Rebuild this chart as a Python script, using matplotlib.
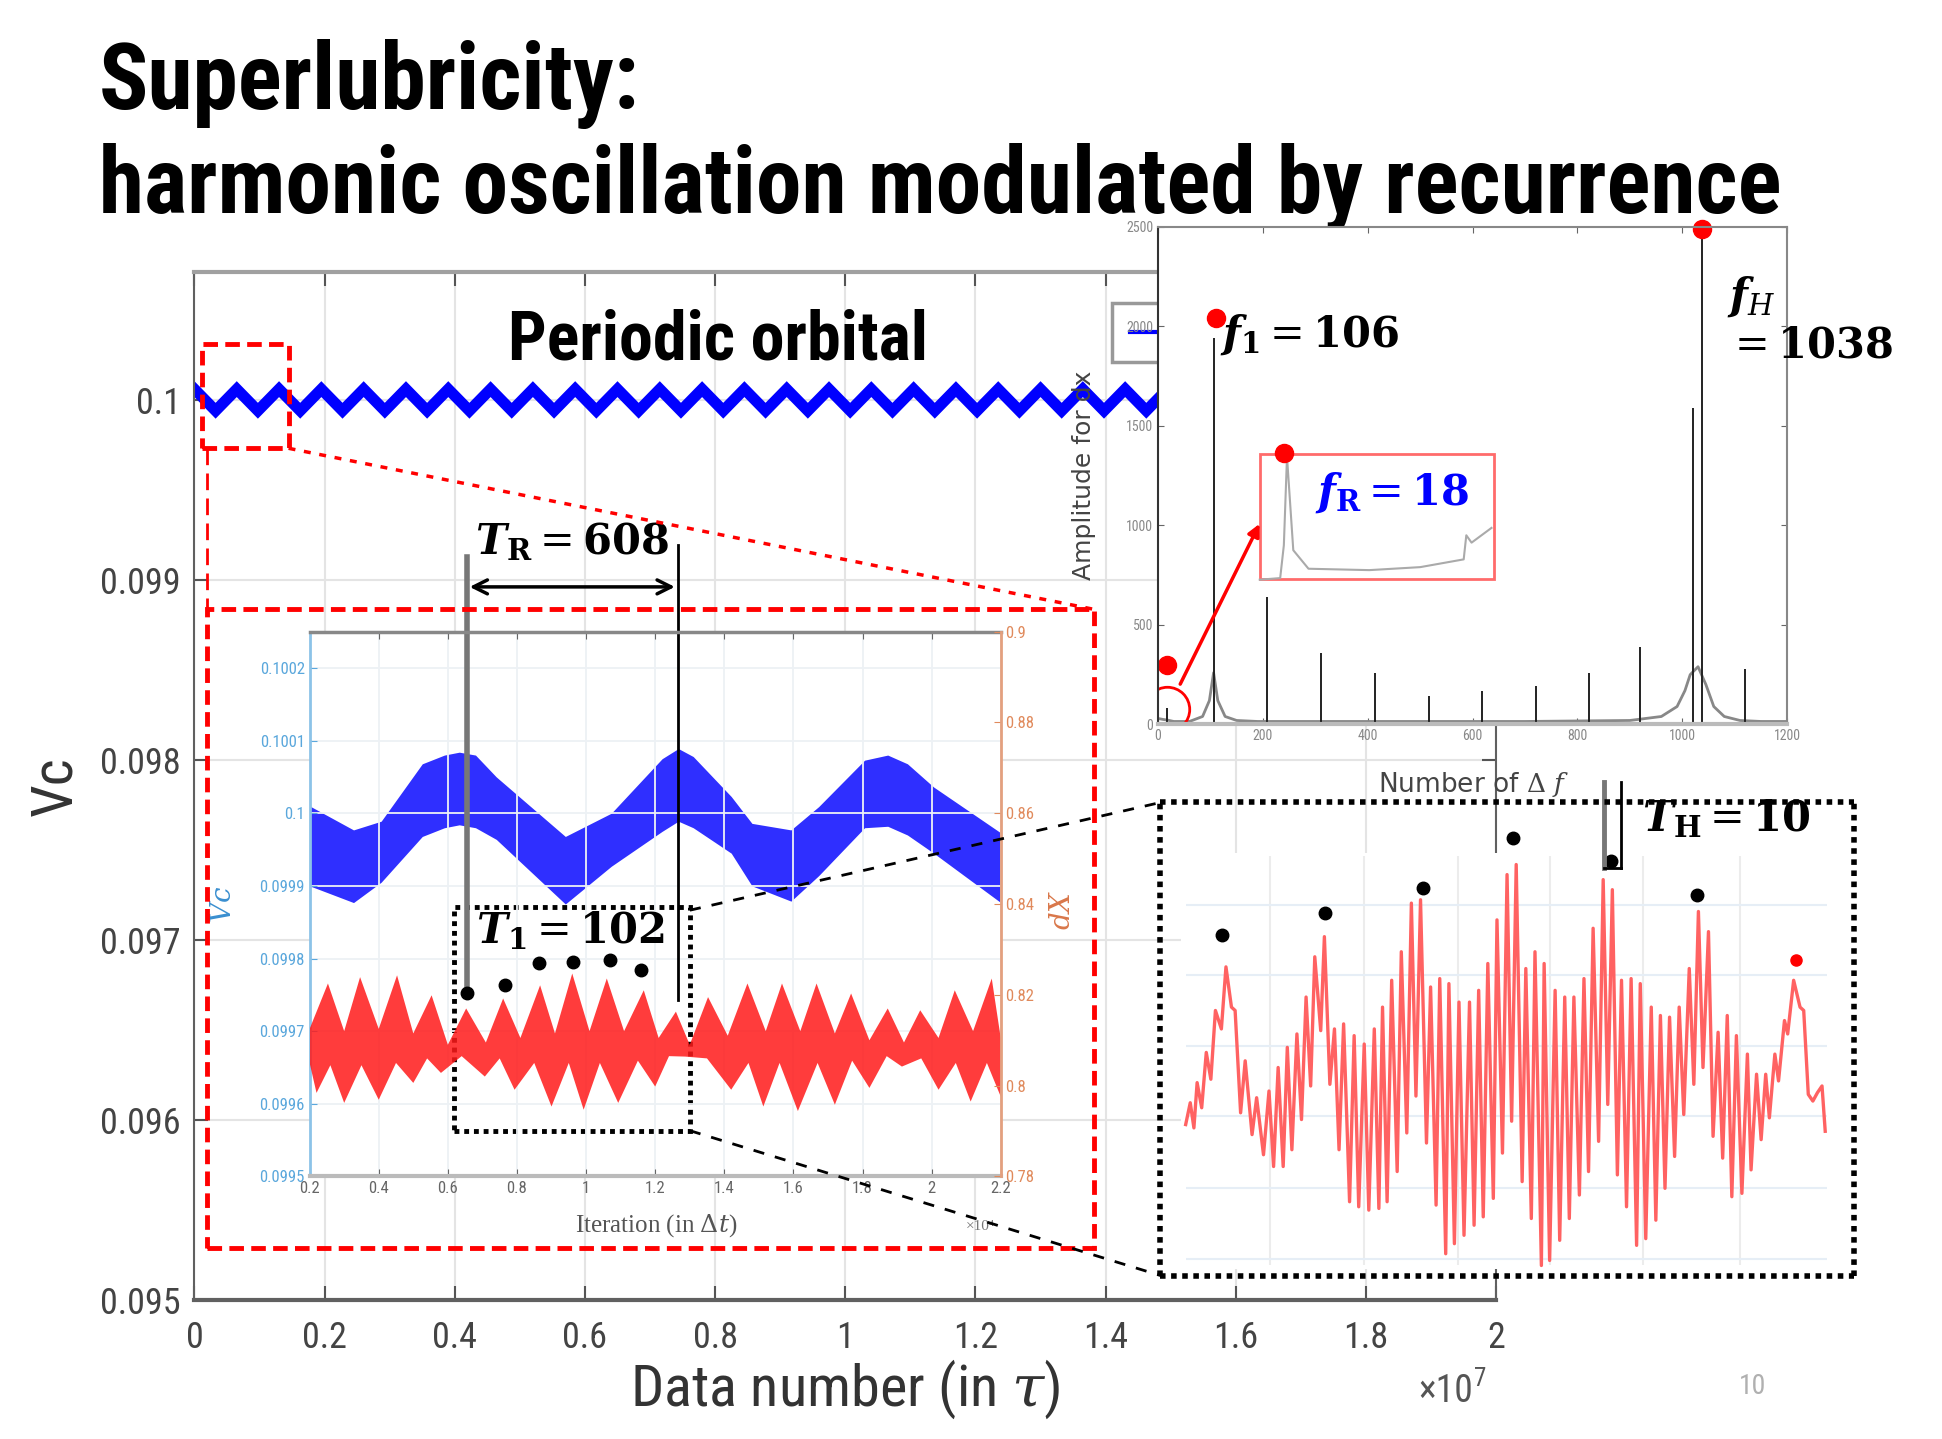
import numpy as np
import matplotlib
matplotlib.use('Agg')
import matplotlib.pyplot as plt
from matplotlib.patches import Rectangle
from matplotlib.lines import Line2D
from matplotlib.ticker import FuncFormatter

plt.rcParams['font.family'] = ['Roboto Condensed', 'Barlow Semi Condensed', 'DejaVu Sans']
plt.rcParams['mathtext.fontset'] = 'custom'
plt.rcParams['mathtext.rm'] = 'DejaVu Serif'
plt.rcParams['mathtext.it'] = 'DejaVu Serif:italic'
plt.rcParams['mathtext.bf'] = 'DejaVu Serif:bold'
plt.rcParams['mathtext.bfit'] = 'DejaVu Serif:italic:bold'

# ---------------- data ----------------
# main trace: periodic orbital, one read cycle repeated over the run
orbit_half_period = 3.25e5
orbit_levels = [0.10006, 0.09994]
data_span = 2.0e7

# middle inset, x in 1e4 iterations: Vc band (left axis)
band_x = [0.2, 0.327, 0.407, 0.526, 0.59, 0.633, 0.68, 0.74, 0.94, 1.073, 1.22,
          1.267, 1.31, 1.42, 1.48, 1.593, 1.673, 1.806, 1.873, 1.93, 2.006, 2.2]
band_hi = [0.10001, 0.099977, 0.099989, 0.100068, 0.10008, 0.100084, 0.10008,
           0.10005, 0.099968, 0.1, 0.100075, 0.100089, 0.100078, 0.100023,
           0.099986, 0.099977, 0.100009, 0.100073, 0.10008, 0.100068, 0.100036,
           0.099973]
band_lo = [0.0999, 0.099877, 0.099905, 0.099968, 0.09998, 0.099984, 0.09998,
           0.099964, 0.099875, 0.099927, 0.099975, 0.099989, 0.09998, 0.099945,
           0.0999, 0.099879, 0.099914, 0.09998, 0.099982, 0.09997, 0.099945,
           0.099877]

# middle inset: dX band (right axis), upper and lower jagged edges
dx_up_x = [0.2, 0.253, 0.30, 0.346, 0.40, 0.453, 0.50, 0.553, 0.60, 0.653, 0.71,
           0.76, 0.81, 0.867, 0.91, 0.96, 1.01, 1.06, 1.11, 1.167, 1.21, 1.26, 1.30,
           1.353, 1.41, 1.467, 1.52, 1.567, 1.62, 1.667, 1.72, 1.767, 1.82, 1.873,
           1.92, 1.967, 2.02, 2.067, 2.12, 2.174, 2.2]
dx_up_y = [0.8125, 0.8225, 0.812, 0.8239, 0.8125, 0.8243, 0.8115, 0.8199, 0.809,
           0.817, 0.8095, 0.8192, 0.8105, 0.8221, 0.8115, 0.8247, 0.812, 0.8236,
           0.812, 0.821, 0.8105, 0.8163, 0.809, 0.8195, 0.811, 0.8225, 0.812,
           0.8225, 0.812, 0.8225, 0.8115, 0.8203, 0.81, 0.817, 0.8095, 0.8166,
           0.8105, 0.821, 0.812, 0.8236, 0.8105]
dx_lo_x = [0.2, 0.22, 0.26, 0.30, 0.35, 0.40, 0.45, 0.50, 0.54, 0.58, 0.64, 0.707,
           0.75, 0.793, 0.85, 0.90, 0.95, 0.993, 1.04, 1.093, 1.15, 1.20, 1.24,
           1.287, 1.35, 1.42, 1.47, 1.513, 1.56, 1.613, 1.67, 1.72, 1.77, 1.82,
           1.87, 1.914, 1.97, 2.02, 2.07, 2.113, 2.16, 2.2]
dx_lo_y = [0.805, 0.7984, 0.8045, 0.7962, 0.8045, 0.7969, 0.805, 0.8006, 0.806,
           0.8028, 0.8065, 0.802, 0.806, 0.7991, 0.805, 0.7954, 0.805, 0.7947,
           0.805, 0.7962, 0.8055, 0.7998, 0.8065, 0.8064, 0.806, 0.7991, 0.805,
           0.7954, 0.805, 0.7944, 0.805, 0.7958, 0.8055, 0.7995, 0.8065, 0.8042,
           0.806, 0.7991, 0.805, 0.7965, 0.805, 0.7976]
t1_dot_x = [0.655, 0.765, 0.865, 0.962, 1.07, 1.16]
t1_dot_y = [0.8204, 0.8221, 0.8270, 0.8273, 0.8276, 0.8254]
tr_marks = [0.655, 1.265]

# spectrum of dx
peak_f = [18, 106, 208, 310, 414, 516, 618, 720, 822, 920, 1020, 1038, 1120]
peak_amp = [85, 1940, 640, 360, 260, 145, 170, 195, 260, 390, 1590, 2480, 280]
skirt_f = [0, 10, 18, 30, 60, 85, 98, 106, 114, 128, 150, 190, 300, 500, 700, 900,
           960, 990, 1005, 1015, 1030, 1045, 1060, 1080, 1110, 1150, 1200]
skirt_amp = [30, 25, 22, 15, 15, 40, 120, 260, 120, 40, 20, 15, 15, 15, 15, 20,
             40, 90, 170, 250, 290, 200, 90, 40, 20, 15, 15]
zoom_f = [194, 233, 240, 246, 258, 287, 403, 500, 583, 588, 598, 636]
zoom_amp = [727, 735, 900, 1345, 875, 782, 775, 790, 829, 950, 913, 987]
spec_dot_f = [18, 110, 240, 1038]
spec_dot_amp = [300, 2040, 1365, 2490]

# harmonic oscillation zoom (arbitrary time / amplitude units)
h_t = [7.0, 8.0, 8.8, 9.5, 10.5, 11.5, 12.5, 13.5, 14.8, 15.8, 17.0, 17.8, 19.0,
       20.0, 21.5, 22.5, 24.0, 25.2, 26.2, 27.2, 28.3, 29.2, 30.2, 31.3, 32.3,
       33.3, 34.3, 35.2, 36.5, 37.3, 38.5, 39.5, 40.5, 41.5, 42.8, 43.8, 44.8,
       46.0, 47.0, 48.2, 49.2, 50.0, 51.0, 52.0, 53.2, 54.1, 55.3, 56.3, 57.3,
       58.3, 59.6, 60.5, 61.7, 62.5, 63.8, 64.5, 65.7, 66.7, 67.8, 69.0, 70.0,
       71.0, 72.0, 73.0, 74.2, 75.0, 76.2, 77.2, 78.2, 79.2, 80.5, 81.3, 82.5,
       83.3, 84.7, 85.3, 86.5, 87.7, 88.7, 89.8, 90.8, 91.8, 93.0, 94.0, 95.0,
       96.0, 97.2, 98.2, 99.2, 100.2, 101.3, 102.2, 103.3, 104.3, 105.5, 106.3,
       107.5, 108.7, 109.7, 110.7, 111.7, 112.7, 113.8, 114.8, 115.8, 117.0,
       118.0, 119.0, 120.0, 121.2, 122.2, 123.3, 124.3, 125.3, 126.3, 127.3,
       128.5, 129.7, 130.5, 131.7, 132.7, 133.7, 134.5, 135.7, 136.5, 137.8,
       138.5, 139.8, 140.5, 141.2, 142.0, 143.0, 144.0, 145.0, 146.0, 146.7]
h_amp = [47.0, 53.5, 46.0, 59.5, 52.0, 68.5, 60.5, 81.0, 75.5, 94.0, 82.0, 81.0,
         50.5, 66.0, 44.0, 55.0, 38.0, 57.0, 34.5, 64.0, 34.5, 70.0, 39.5, 74.0,
         48.5, 85.0, 58.5, 97.0, 75.0, 103.0, 59.0, 75.5, 39.5, 77.0, 24.0, 73.5,
         22.5, 71.0, 21.5, 75.5, 22.0, 82.0, 24.0, 90.0, 33.0, 98.5, 44.5, 113.0,
         55.5, 114.0, 41.5, 88.0, 23.0, 90.5, 8.5, 89.0, 11.5, 83.5, 14.0, 83.5,
         17.0, 87.0, 19.5, 95.0, 25.0, 108.0, 38.5, 121.5, 48.0, 124.5, 30.0,
         93.5, 19.0, 98.5, 5.0, 95.0, 6.5, 87.0, 12.5, 85.0, 19.0, 85.0, 26.0,
         90.5, 33.0, 105.5, 42.0, 120.0, 53.0, 117.0, 32.0, 90.0, 22.5, 90.5,
         11.0, 89.0, 13.0, 82.0, 18.5, 79.5, 28.0, 79.0, 37.5, 82.0, 50.0, 93.5,
         59.0, 110.5, 64.0, 104.5, 43.5, 74.5, 37.0, 79.5, 25.5, 73.5, 26.5,
         68.0, 33.5, 62.0, 42.5, 62.0, 49.0, 68.0, 60.0, 78.0, 74.0, 90.0, 86.0,
         82.0, 81.0, 56.0, 54.0, 56.5, 58.5, 45.0]
h_dot_t = [15.0, 37.5, 58.8, 78.5, 99.8, 118.8]
h_dot_amp = [103.5, 110.0, 117.5, 132.5, 125.5, 115.5]
h_last_t = [140.3]
h_last_amp = [96.0]
h_grid_t = [25.5, 46, 66.5, 86.5, 107, 128]
h_grid_amp = [7, 28, 49.5, 70.5, 91.5, 112.5]


def box(l, t, r, b):
    # slide sketch px (1568x1162) -> figure fraction
    return [l / 1568, 1 - b / 1162, (r - l) / 1568, (b - t) / 1162]


def fp(x, y):
    return (x / 1568, 1 - y / 1162)


fig = plt.figure(figsize=(19.42, 14.39), dpi=100)

fig.text(*fp(80, 88), 'Superlubricity:', fontsize=66, fontweight='bold', va='baseline')
fig.text(*fp(80, 172), 'harmonic oscillation modulated by recurrence', fontsize=66,
         fontweight='bold', va='baseline')

# ---------------- main axes ----------------
ax = fig.add_axes(box(157, 220, 1208, 1050))
n = int(data_span / orbit_half_period) + 2
orbit_t = np.arange(n) * orbit_half_period
orbit_vc = np.resize(orbit_levels, n)
ax.plot(orbit_t, orbit_vc, color='blue', lw=8, solid_joinstyle='miter')
ax.set_xlim(0, data_span)
ax.set_ylim(0.095, 0.100708)
ax.set_xticks(np.arange(0, data_span + 1, 0.2e7))
ax.set_yticks(np.round(np.arange(0.095, 0.10001, 0.001), 3))
ax.xaxis.set_major_formatter(FuncFormatter(lambda v, p: '%g' % (v / 1e7)))
ax.yaxis.set_major_formatter(FuncFormatter(lambda v, p: '%g' % round(v, 3)))
ax.tick_params(direction='in', length=10, width=1.5, top=True, right=True,
               labelsize=26, labelcolor='#444', color='#555')
ax.tick_params(axis='x', pad=14)
ax.tick_params(axis='y', pad=10)
ax.grid(True, color='#e4e4e4', lw=1.5)
ax.spines['top'].set_color('#a0a0a0'); ax.spines['top'].set_linewidth(3)
ax.spines['bottom'].set_color('#606060'); ax.spines['bottom'].set_linewidth(3)
ax.spines['left'].set_color('#606060'); ax.spines['left'].set_linewidth(1.5)
ax.spines['right'].set_color('#606060'); ax.spines['right'].set_linewidth(1.5)

fig.text(*fp(682, 1122), r'Data number (in $\tau$)', fontsize=42, color='#333',
         ha='center', va='center')
xten = fig.text(*fp(1145, 1124), '×10', fontsize=27, color='#555', va='center')
ax.annotate('7', xy=(1, 1), xycoords=xten, xytext=(1, -4), textcoords='offset points',
            fontsize=18, color='#555', va='center')
fig.text(*fp(1415, 1120), '10', fontsize=20, color='#b0b0b0', ha='center', va='center')
fig.text(*fp(45, 635), 'Vc', fontsize=42, color='#333', rotation=90,
         ha='center', va='center')
fig.text(*fp(580, 290), 'Periodic orbital', fontsize=49, fontweight='bold',
         ha='center', va='baseline')

# legend stub partly hidden by the spectrum
fig.add_artist(Rectangle(fp(898, 292), 60 / 1568, 47 / 1162, transform=fig.transFigure,
                         fc='white', ec='#999', lw=2.5, zorder=1))
fig.add_artist(Line2D([fp(912, 0)[0], fp(960, 0)[0]], [fp(0, 268)[1]] * 2,
                      transform=fig.transFigure, color='blue', lw=3, zorder=1.5))

# ---------------- middle inset ----------------
ax_in = fig.add_axes(box(250, 510, 808, 950))
ax_in.set_zorder(3)
ax_in.fill_between(band_x, band_lo, band_hi, color='#0a0aff', alpha=0.85, lw=0)
ax_in.set_xlim(0.2, 2.2)
ax_in.set_ylim(0.0995, 0.10025)
ax_in.set_xticks(np.round(np.arange(0.2, 2.21, 0.2), 1))
ax_in.set_yticks(np.round(np.arange(0.0995, 0.10021, 0.0001), 4))
ax_in.xaxis.set_major_formatter(FuncFormatter(lambda v, p: '%g' % round(v, 1)))
ax_in.yaxis.set_major_formatter(FuncFormatter(lambda v, p: '%g' % round(v, 4)))
ax_in.tick_params(direction='in', length=5, top=True, labelsize=12)
ax_in.tick_params(axis='y', colors='#5aa7dc')
ax_in.tick_params(axis='x', colors='#666')
ax_in.grid(True, color='#edf1f5', lw=1.3)
ax_in.spines['left'].set_color('#8cc3e8'); ax_in.spines['left'].set_linewidth(2)
ax_in.spines['right'].set_visible(False)
ax_in.spines['top'].set_color('#888'); ax_in.spines['top'].set_linewidth(2.5)
ax_in.spines['bottom'].set_color('#bbb'); ax_in.spines['bottom'].set_linewidth(3)

ax_r = ax_in.twinx()
ax_r.set_zorder(3.5)
ax_r.fill(np.r_[dx_up_x, dx_lo_x[::-1]], np.r_[dx_up_y, dx_lo_y[::-1]],
          color='#ff1a1a', alpha=0.85, lw=0)
ax_r.set_ylim(0.78, 0.9)
ax_r.set_yticks(np.round(np.arange(0.78, 0.901, 0.02), 2))
ax_r.yaxis.set_major_formatter(FuncFormatter(lambda v, p: '%g' % round(v, 2)))
ax_r.tick_params(direction='in', length=5, labelsize=12, colors='#e08a5c')
for s in ['left', 'top', 'bottom']:
    ax_r.spines[s].set_visible(False)
ax_r.spines['right'].set_color('#e3a07f'); ax_r.spines['right'].set_linewidth(2)
ax_r.plot(t1_dot_x, t1_dot_y, 'o', color='k', ms=9, clip_on=False)

ax_in.text(-0.125, 0.5, r'$Vc$', transform=ax_in.transAxes, fontsize=20,
           color='#3a8fd0', rotation=90, ha='center', va='center')
ax_in.text(1.09, 0.49, r'$dX$', transform=ax_in.transAxes, fontsize=20,
           color='#d9774a', rotation=90, ha='center', va='center')
ax_in.text(0.502, -0.091, r'Iteration (in $\Delta t$)', transform=ax_in.transAxes,
           fontsize=18, color='#555', family='Liberation Serif', ha='center', va='center')
ax_in.text(0.97, -0.091, '×10⁴', transform=ax_in.transAxes, fontsize=11,
           color='#777', family='Liberation Serif', ha='center', va='center')

tr = ax_in.get_xaxis_transform()
ax_in.plot([tr_marks[0]] * 2, [0.336, 1.136], transform=tr, color='#777', lw=4,
           clip_on=False)
ax_in.plot([tr_marks[1]] * 2, [0.323, 1.159], transform=tr, color='k', lw=2,
           clip_on=False)
ax_in.annotate('', xy=(tr_marks[1], 1.082), xytext=(tr_marks[0], 1.082), xycoords=tr,
               textcoords=tr, arrowprops=dict(arrowstyle='<->', lw=2.5, color='k',
                                              mutation_scale=25))
ax_in.text(0.96, 1.165, r'$\mathbfit{T}_{\mathbf{R}} = \mathbf{608}$', transform=tr,
           fontsize=30, ha='center', va='center')
ax_in.add_patch(Rectangle((0.619, 0.084), 1.30 - 0.619, 0.495 - 0.084, transform=tr,
                          fill=False, ec='k', lw=3.5, ls=(0, (1, 1)), clip_on=False))
ax_in.text(0.955, 0.45, r'$\mathbfit{T}_{\mathbf{1}} = \mathbf{102}$', transform=tr,
           fontsize=30, ha='center', va='center')

# ---------------- harmonic oscillation zoom ----------------
ax_h = fig.add_axes(box(937, 648, 1497, 1030))
ax_h.set_zorder(4)
ax_h.set_facecolor('none')
ax_h.add_patch(Rectangle((6, 4), 142, 124, fc='white', ec='none', zorder=0))
ax_h.vlines(h_grid_t, 5, 127, color='#ececec', lw=1.5, zorder=0.5)
ax_h.hlines(h_grid_amp, 7, 147, color='#e6eef6', lw=1.5, zorder=0.5)
ax_h.plot(h_t, h_amp, color='#ff6262', lw=2.4)
ax_h.plot(h_dot_t, h_dot_amp, 'o', color='k', ms=9)
ax_h.plot(h_last_t, h_last_amp, 'o', color='red', ms=8)
ax_h.set_xlim(1.5, 153)
ax_h.set_ylim(2, 143)
ax_h.set_xticks([]); ax_h.set_yticks([])
for sp in ax_h.spines.values():
    sp.set_linestyle((0, (1, 1)))
    sp.set_linewidth(4)
    sp.set_color('k')
    sp.set_capstyle('butt')
ax_h.plot([98.3, 98.3], [123.5, 149], color='#777', lw=3.5, clip_on=False)
ax_h.plot([102, 102], [123.5, 149], color='k', lw=2, clip_on=False)
ax_h.plot([98.3, 102], [123.5, 123.5], color='k', lw=2, clip_on=False)
ax_h.text(125, 138, r'$\mathbfit{T}_{\mathbf{H}} = \mathbf{10}$', fontsize=30,
          ha='center', va='center')

# ---------------- spectrum ----------------
ax_s = fig.add_axes(box(935, 183, 1443, 585))
ax_s.set_zorder(5)
ax_s.set_facecolor('white')
ax_s.plot(skirt_f, skirt_amp, color='#888', lw=2)
ax_s.vlines(peak_f, 0, peak_amp, color='#222', lw=1.4)
ax_s.set_xlim(0, 1200)
ax_s.set_ylim(0, 2500)
ax_s.set_xticks(np.arange(0, 1201, 200))
ax_s.set_yticks(np.arange(0, 2501, 500))
ax_s.tick_params(direction='in', length=4, top=True, right=True, labelsize=10,
                 labelcolor='#888', color='#666')
ax_s.spines['left'].set_color('#333'); ax_s.spines['left'].set_linewidth(1.5)
ax_s.spines['bottom'].set_color('#bbb'); ax_s.spines['bottom'].set_linewidth(3)
ax_s.spines['top'].set_color('#888'); ax_s.spines['top'].set_linewidth(1.5)
ax_s.spines['right'].set_color('#888'); ax_s.spines['right'].set_linewidth(1.5)
ax_s.set_xlabel(r'Number of $\Delta$ $f$', fontsize=19, color='#444',
                family='DejaVu Sans')
ax_s.xaxis.set_label_coords(0.502, -0.092)
ax_s.set_ylabel('Amplitude for dx', fontsize=18, color='#444', family='DejaVu Sans')
ax_s.yaxis.set_label_coords(-0.098, 0.5)

ax_s.add_patch(Rectangle((194, 728), 446, 628, fill=False, ec='#ff6b6b', lw=2))
ax_s.plot(zoom_f, zoom_amp, color='#aaa', lw=1.5)
ax_s.plot([18], [80], 'o', ms=32, mfc='none', mec='red', mew=2)
ax_s.annotate('', xy=(196, 1020), xytext=(40, 190),
              arrowprops=dict(arrowstyle='-|>', color='red', lw=2.5, mutation_scale=18))
ax_s.plot(spec_dot_f, spec_dot_amp, 'o', color='red', ms=13, clip_on=False)
ax_s.text(118, 1960, r'$\mathbfit{f}_{\mathbf{1}} = \mathbf{106}$', fontsize=30,
          va='center')
ax_s.text(1085, 2150, r'$\mathbfit{f}_{\mathit{H}}$', fontsize=30, va='center',
          clip_on=False)
ax_s.text(1085, 1900, r'$= \mathbf{1038}$', fontsize=30, va='center', clip_on=False)
ax_s.text(300, 1165, r'$\mathbfit{f}_{\mathbf{R}} = \mathbf{18}$', fontsize=30,
          color='blue', va='center')

# ---------------- zoom indicators ----------------
def fig_line(p0, p1, **kw):
    (x0, y0), (x1, y1) = fp(*p0), fp(*p1)
    fig.add_artist(Line2D([x0, x1], [y0, y1], transform=fig.transFigure, zorder=10, **kw))


def fig_rect(l, t, r, b, **kw):
    fig.add_artist(Rectangle(fp(l, b), (r - l) / 1568, (b - t) / 1162,
                             transform=fig.transFigure, fill=False, zorder=10, **kw))


fig_rect(163, 278, 233, 362, ec='red', lw=3.5, ls=(0, (3, 1.5)))
fig_rect(167, 492, 883, 1008, ec='red', lw=3.5, ls=(0, (3, 1.5)))
fig_line((233, 362), (883, 492), color='red', lw=2.5, ls=(0, (2, 2.5)))
fig_line((167, 362), (167, 492), color='red', lw=2, ls=(0, (6, 3)))
fig_line((557, 735), (937, 648), color='k', lw=2, ls=(0, (4, 4)))
fig_line((557, 913), (937, 1030), color='k', lw=2, ls=(0, (4, 4)))

fig.savefig('out.png', dpi=100)
